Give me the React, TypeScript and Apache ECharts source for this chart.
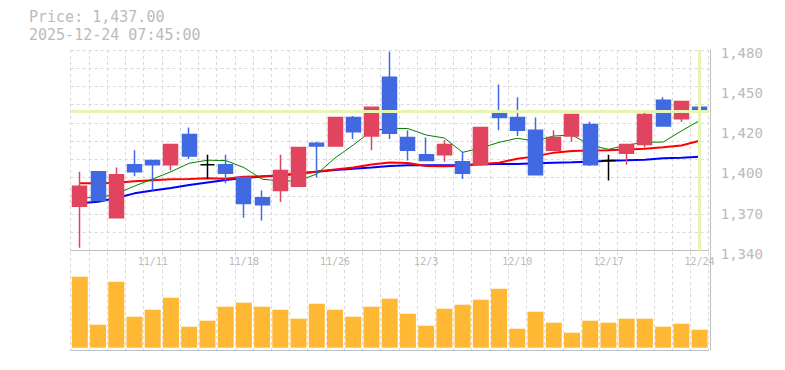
import React, { useEffect, useRef } from 'react';
import * as echarts from 'echarts';

const priceText = 'Price: 1,437.00';
const timeText = '2025-12-24 07:45:00';
const lastPrice = 1437;

const dates = ['11/5','11/6','11/7','11/10','11/11','11/12','11/13','11/14','11/17','11/18','11/19','11/20','11/21','11/25','11/26','11/27','11/28','12/1','12/2','12/3','12/4','12/5','12/8','12/9','12/10','12/11','12/12','12/15','12/16','12/17','12/18','12/19','12/22','12/23','12/24'];

const opens = [1371,1395,1363,1400,1403,1400,1421,1400,1400,1391,1377,1382,1385,1415,1413,1433,1420,1461,1419,1407,1407,1402,1400,1437,1433,1424,1410,1420,1428,1403,1408,1414,1445,1432,1440];
const closes = [1385,1375,1393,1395,1400,1414,1406,1400,1394,1373,1372,1396,1412,1413,1433,1423,1440,1422,1410,1403,1414,1394,1426,1433,1424,1393,1419,1435,1400,1403,1414,1435,1427,1444,1437];
const lows = [1342,1375,1363,1392,1382,1396,1404,1390,1387,1363,1361,1374,1385,1391,1413,1418,1410,1418,1403,1403,1402,1390,1399,1424,1420,1393,1410,1416,1399,1389,1400,1412,1427,1430,1431];
const highs = [1395,1395,1398,1410,1403,1414,1426,1407,1407,1391,1382,1407,1412,1416,1433,1434,1440,1479,1424,1419,1417,1409,1426,1456,1447,1433,1424,1435,1430,1407,1414,1437,1447,1444,1444];

const ma5 = [1377.2,1376.8,1379.6,1385.1,1390.0,1395.1,1401.0,1403.1,1402.9,1398.0,1389.9,1388.6,1388.8,1393.5,1404.7,1413.7,1423.5,1425.4,1425.2,1420.7,1418.6,1408.6,1411.6,1415.6,1418.4,1416.5,1420.0,1420.7,1413.7,1410.7,1413.7,1415.6,1415.8,1423.5,1430.8];
const ma25 = [1387.0,1387.0,1387.4,1388.4,1389.1,1389.8,1390.0,1390.5,1390.2,1391.6,1391.9,1392.6,1393.6,1395.2,1396.6,1398.0,1400.1,1401.5,1401.2,1399.1,1398.9,1399.3,1400.5,1401.4,1404.2,1405.8,1408.4,1409.5,1409.9,1410.0,1410.6,1411.2,1412.1,1413.4,1416.7];
const ma75 = [1373.1,1374.2,1376.8,1380.0,1382.0,1383.7,1385.8,1387.6,1389.3,1390.7,1391.8,1392.5,1393.9,1395.0,1396.3,1397.2,1398.0,1399.1,1399.6,1399.6,1399.6,1399.8,1400.3,1400.5,1400.5,1401.0,1401.4,1401.7,1402.1,1402.8,1403.1,1403.5,1404.5,1404.9,1405.6];

const volumes = [710,230,660,310,380,500,210,270,410,450,410,380,290,440,380,310,410,490,340,220,390,430,480,590,190,360,250,150,270,250,290,290,210,240,180];

const priceMin = 1340;
const priceMax = 1480;
const priceStep = 28;

const mono = '"DejaVu Sans Mono", monospace';
const textGrey = '#bbbbbb';
const axisGrey = '#c0c0c0';
const gridGrey = '#d9d9d9';
const upColor = '#e0445f';
const downColor = '#4169e1';
const volColor = '#ffb833';
const markColor = '#e6f5b4';

export default function App() {
  const ref = useRef<HTMLDivElement>(null);

  useEffect(() => {
    document.body.style.margin = '0';
    const chart = echarts.init(ref.current!, null, { renderer: 'svg' });
    const candleData = dates.map((_, i) => [opens[i], closes[i], lows[i], highs[i]]);
    const dashed = { color: gridGrey, width: 1, type: [3, 3] as number[] };

    chart.setOption({
      animation: false,
      backgroundColor: '#ffffff',
      graphic: [
        { type: 'text', left: 29, top: 9.5, style: { text: priceText, fill: textGrey, font: '15px "DejaVu Sans Mono"' } },
        { type: 'text', left: 29, top: 27.2, style: { text: timeText, fill: textGrey, font: '15px "DejaVu Sans Mono"' } },
      ],
      grid: [
        { left: 70.7, right: 76.3, top: 50, height: 200.7 },
        { left: 70.7, right: 76.3, top: 252, height: 98 },
      ],
      xAxis: [
        {
          type: 'category', gridIndex: 0, data: dates, boundaryGap: true,
          axisLine: { show: true, onZero: false, lineStyle: { color: axisGrey, width: 1 } },
          axisTick: { show: false },
          axisLabel: {
            interval: (i: number) => (i - 4) % 5 === 0,
            color: textGrey, fontFamily: mono, fontSize: 10, margin: 6,
          },
          splitLine: { show: true, interval: 0, lineStyle: dashed },
        },
        {
          type: 'category', gridIndex: 1, data: dates, boundaryGap: true,
          axisLine: { show: true, onZero: false, lineStyle: { color: axisGrey, width: 1 } },
          axisTick: { show: false },
          axisLabel: { show: false },
          splitLine: { show: true, interval: 0, lineStyle: dashed },
        },
      ],
      yAxis: [
        {
          type: 'value', gridIndex: 0, position: 'right', min: priceMin, max: priceMax, interval: priceStep, offset: 2,
          axisLine: { show: true, lineStyle: { color: axisGrey, width: 1 } },
          axisTick: { show: false },
          axisLabel: {
            color: textGrey, fontFamily: mono, fontSize: 14, margin: 10,
            formatter: (v: number) => '{t|' + (Math.round(v / 10) * 10).toLocaleString('en-US') + '}',
            rich: { t: { color: textGrey, fontFamily: mono, fontSize: 14, padding: [6, 0, 0, 0] } },
          },
          splitLine: { show: false },
        },
        {
          type: 'value', gridIndex: 0, position: 'left', min: 0, max: 11, interval: 1,
          axisLine: { show: false }, axisTick: { show: false }, axisLabel: { show: false },
          splitLine: { show: true, lineStyle: dashed },
        },
        {
          type: 'value', gridIndex: 1, position: 'right', min: -23, max: 957, offset: 2,
          axisLine: { show: true, lineStyle: { color: axisGrey, width: 1 } },
          axisTick: { show: false }, axisLabel: { show: false }, splitLine: { show: false },
        },
      ],
      series: [
        {
          name: 'price', type: 'line', xAxisIndex: 0, yAxisIndex: 0, data: [], z: 1, silent: true,
          markLine: {
            silent: true, symbol: 'none', label: { show: false },
            lineStyle: { color: markColor, width: 3, type: 'solid' },
            data: [{ yAxis: lastPrice }, { xAxis: dates[dates.length - 1] }],
          },
        },
        { name: 'MA75', type: 'line', xAxisIndex: 0, yAxisIndex: 0, data: ma75, symbol: 'none', z: 2, lineStyle: { color: '#0000ff', width: 2 } },
        { name: 'MA25', type: 'line', xAxisIndex: 0, yAxisIndex: 0, data: ma25, symbol: 'none', z: 2, lineStyle: { color: '#ff0000', width: 2 } },
        { name: 'MA5', type: 'line', xAxisIndex: 0, yAxisIndex: 0, data: ma5, symbol: 'none', z: 2, lineStyle: { color: '#008000', width: 1 } },
        {
          name: 'candle', type: 'candlestick', xAxisIndex: 0, yAxisIndex: 0, data: candleData, barWidth: 14.5, z: 3,
          itemStyle: {
            color: upColor, color0: downColor, borderColor: upColor, borderColor0: downColor,
            borderColorDoji: '#000000', borderWidth: 1.5,
          },
        },
        {
          name: 'volume', type: 'bar', xAxisIndex: 1, yAxisIndex: 2, data: volumes, barWidth: 16,
          itemStyle: { color: volColor },
        },
      ],
    });

    return () => chart.dispose();
  }, []);

  return <div ref={ref} style={{ width: 785, height: 370 }} />;
}
